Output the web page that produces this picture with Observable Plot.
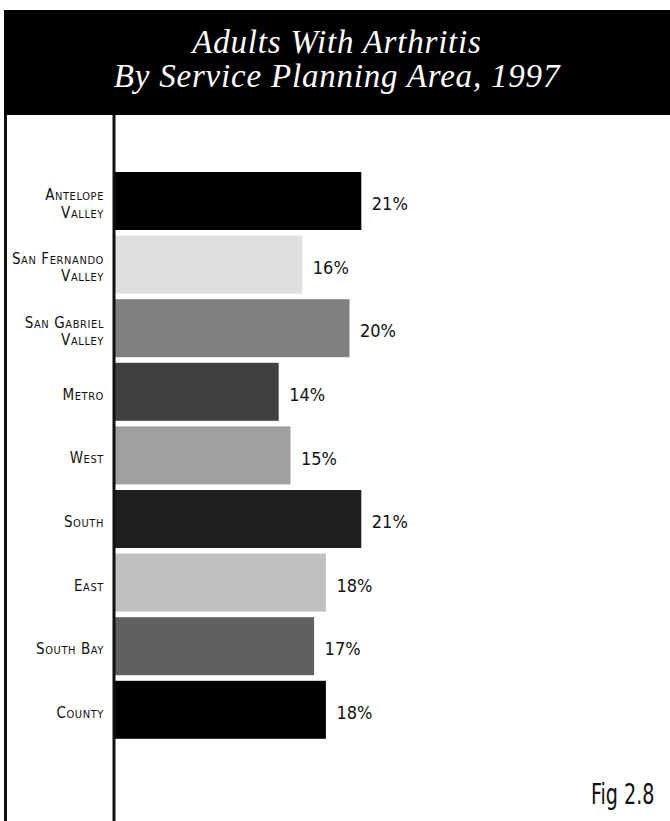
<!DOCTYPE html>
<html><head><meta charset="utf-8">
<script src="https://cdn.jsdelivr.net/npm/d3@7"></script>
<script src="https://cdn.jsdelivr.net/npm/@observablehq/plot@0.6"></script>
<style>
html,body{margin:0;padding:0;background:#fff;}
body{width:670px;height:821px;position:relative;overflow:hidden;}
#title{position:absolute;left:4px;top:10px;width:666px;height:105px;background:#000;color:#fff;
  font-family:"Liberation Serif","Times New Roman",serif;font-style:italic;font-size:33px;line-height:34px;
  text-align:center;letter-spacing:0.8px;box-sizing:border-box;padding-top:15px;}
#border{position:absolute;left:4px;top:115px;width:3px;height:706px;background:#111;}
#chart{position:absolute;left:0;top:115px;}
#fig{position:absolute;right:16px;top:781px;font-family:"DejaVu Sans Condensed",sans-serif;
  font-size:28px;line-height:28px;color:#111;transform:scaleX(0.76);transform-origin:right center;white-space:nowrap;}
</style>
</head><body>
<div id="title">Adults With Arthritis<br>By Service Planning Area, 1997</div>
<div id="border"></div>
<div id="chart"></div>
<div id="fig">Fig 2.8</div>
<script>
const areas = ["Antelope Valley","San Fernando Valley","San Gabriel Valley","Metro","West","South","East","South Bay","County"];
const areaLabels = ["Antelope\nValley","San Fernando\nValley","San Gabriel\nValley","Metro","West","South","East","South Bay","County"];
const percents = [21,16,20,14,15,21,18,17,18];
const valueLabels = ["21%","16%","20%","14%","15%","21%","18%","17%","18%"];
const barColors = ["#000000","#dfdfdf","#808080","#404040","#a0a0a0","#202020","#c0c0c0","#606060","#000000"];

const data = areas.map((a,i)=>({area:a, label:areaLabels[i], pct:percents[i], text:valueLabels[i], color:barColors[i]}));

const chart = Plot.plot({
  width: 670,
  height: 706,
  marginTop: 0, marginBottom: 0, marginLeft: 0, marginRight: 0,
  style: {background:"transparent", overflow:"visible"},
  x: {domain:[0,40], range:[113.5, 113.5 + 11.8*40], axis:null},
  y: {domain: areas, range:[51.4, 629.4], padding:0.088, round:false, axis:null},
  marks: [
    Plot.barX(data, {x1:0, x2:"pct", y:"area", fill:"color"}),
    Plot.ruleX([0], {stroke:"#111", strokeWidth:3}),
    Plot.text(data, {x:0, y:"area", text:"label", textAnchor:"end", dx:-10, dy:2,
      fontFamily:"'DejaVu Sans Condensed','DejaVu Sans',sans-serif", fontSize:15, lineHeight:1.15,
      fontVariant:"small-caps", fill:"#111"}),
    Plot.text(data, {x:"pct", y:"area", text:"text", textAnchor:"start", dx:10, dy:3,
      fontFamily:"'DejaVu Sans Condensed',sans-serif", fontSize:18, fill:"#111"})
  ]
});
chart.querySelectorAll('g[font-variant="small-caps"]').forEach(g=>{ g.style.letterSpacing="0.6px"; });
document.getElementById("chart").appendChild(chart);
</script>
</body></html>
